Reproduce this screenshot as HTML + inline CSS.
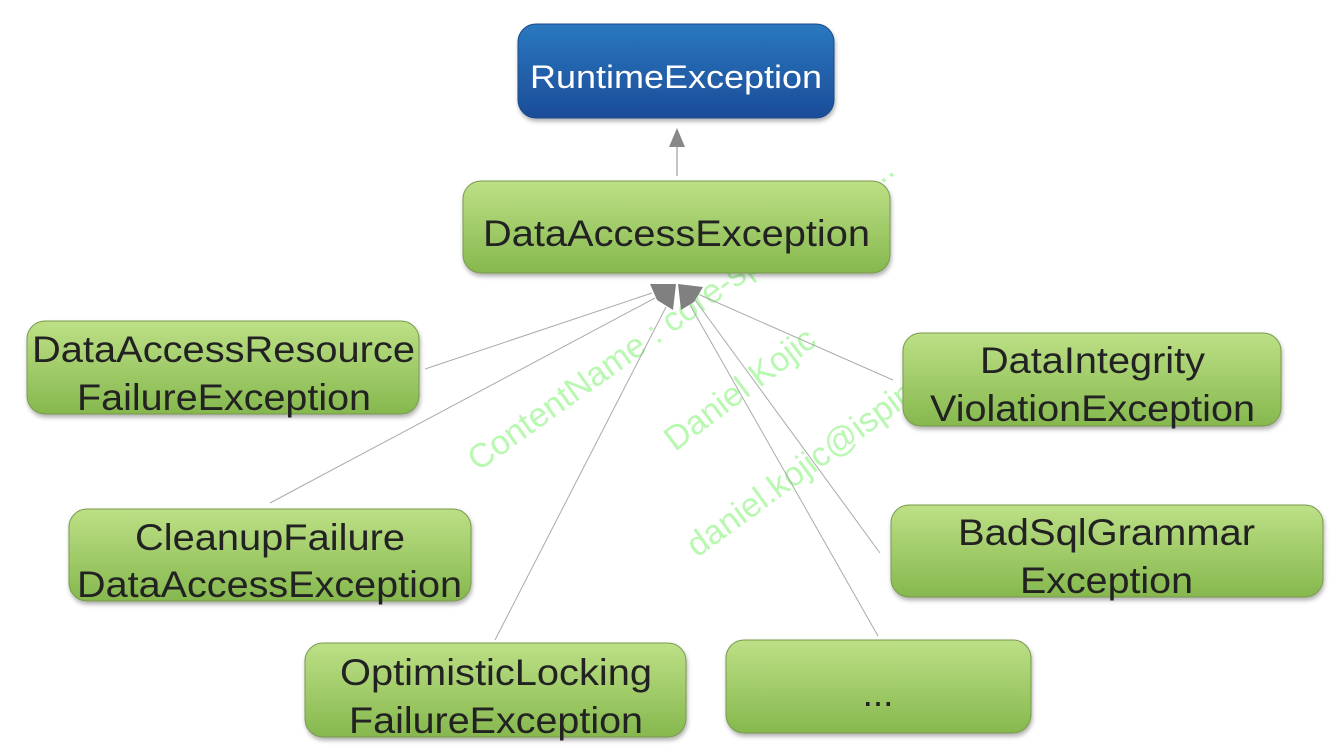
<!DOCTYPE html>
<html><head><meta charset="utf-8"><style>html,body{margin:0;padding:0;background:#fff}svg{display:block}</style></head>
<body>
<svg width="1338" height="756" viewBox="0 0 1338 756" xmlns="http://www.w3.org/2000/svg" font-family="Liberation Sans, Arial, sans-serif">
<defs>
<linearGradient id="g" x1="0" y1="0" x2="0" y2="1"><stop offset="0" stop-color="#bde086"/><stop offset="1" stop-color="#86b84e"/></linearGradient>
<linearGradient id="b" x1="0" y1="0" x2="0" y2="1"><stop offset="0" stop-color="#2a78bf"/><stop offset="1" stop-color="#1c4c98"/></linearGradient>
<filter id="s" x="-5%" y="-10%" width="110%" height="130%"><feDropShadow dx="1" dy="3" stdDeviation="2" flood-color="#000" flood-opacity="0.3"/></filter>
</defs>
<g fill="#b8f8b0" font-size="34">
<text x="478" y="472" transform="rotate(-35.5 478 472)">ContentName : core-spring-3.2. ...</text>
<text x="675" y="452" transform="rotate(-37 675 452)">Daniel Kojic</text>
<text x="697" y="558" transform="rotate(-36 697 558)">daniel.kojic@ispin.ch</text>
</g>
<g stroke="#aaa" stroke-width="1">
<line x1="677" y1="176" x2="677" y2="140" stroke="#888"/>
<line x1="425" y1="369" x2="652" y2="293"/>
<line x1="270" y1="503" x2="655" y2="298"/>
<line x1="495" y1="640" x2="666" y2="307"/>
<line x1="878" y1="636" x2="690" y2="305"/>
<line x1="880" y1="553" x2="695" y2="300"/>
<line x1="893" y1="380" x2="700" y2="295"/>
</g>
<polygon points="677,128 669,147 685,147" fill="#888"/>
<polygon points="650,284 676,284 673,310 657,300" fill="#808080"/>
<polygon points="678,284 703,287 694,302 681,310" fill="#808080"/>
<g filter="url(#s)" stroke="#7a9a50" stroke-width="1">
<rect x="518" y="24" width="316" height="94" rx="18" fill="url(#b)" stroke="#1a4a8a"/>
<rect x="463" y="181" width="427" height="92" rx="18" fill="url(#g)"/>
<rect x="27" y="321" width="392" height="93" rx="18" fill="url(#g)"/>
<rect x="903" y="333" width="378" height="93" rx="18" fill="url(#g)"/>
<rect x="69" y="509" width="402" height="92" rx="18" fill="url(#g)"/>
<rect x="891" y="505" width="432" height="92" rx="18" fill="url(#g)"/>
<rect x="305" y="643" width="381" height="94" rx="18" fill="url(#g)"/>
<rect x="726" y="640" width="305" height="93" rx="18" fill="url(#g)"/>
</g>
<text x="530" y="88" font-size="32" fill="#fff" textLength="292" lengthAdjust="spacingAndGlyphs">RuntimeException</text>
<g fill="#222" font-size="37">
<text x="483" y="246" textLength="387" lengthAdjust="spacingAndGlyphs">DataAccessException</text>
<text x="32" y="362" textLength="383" lengthAdjust="spacingAndGlyphs">DataAccessResource</text>
<text x="77" y="410" textLength="294" lengthAdjust="spacingAndGlyphs">FailureException</text>
<text x="980" y="373" textLength="225" lengthAdjust="spacingAndGlyphs">DataIntegrity</text>
<text x="930" y="421" textLength="325" lengthAdjust="spacingAndGlyphs">ViolationException</text>
<text x="135" y="550" textLength="270" lengthAdjust="spacingAndGlyphs">CleanupFailure</text>
<text x="77" y="597" textLength="385" lengthAdjust="spacingAndGlyphs">DataAccessException</text>
<text x="958" y="545" textLength="297" lengthAdjust="spacingAndGlyphs">BadSqlGrammar</text>
<text x="1020" y="593" textLength="173" lengthAdjust="spacingAndGlyphs">Exception</text>
<text x="340" y="685" textLength="312" lengthAdjust="spacingAndGlyphs">OptimisticLocking</text>
<text x="349" y="733" textLength="294" lengthAdjust="spacingAndGlyphs">FailureException</text>
<text x="878" y="706" text-anchor="middle">...</text>
</g>
</svg>
</body></html>
